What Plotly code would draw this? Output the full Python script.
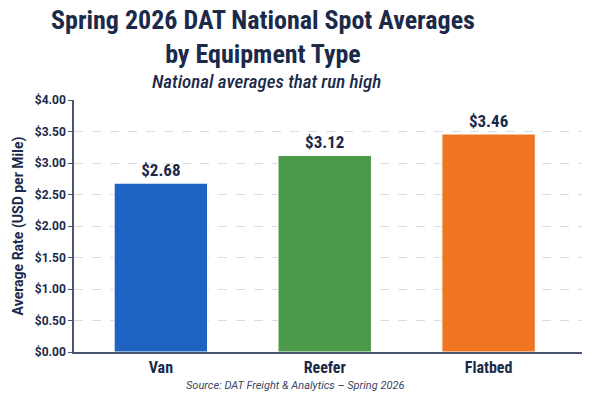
import plotly.graph_objects as go

categories = ["Van", "Reefer", "Flatbed"]
values = [2.68, 3.12, 3.46]
colors = ["#1f63c2", "#4a9a4a", "#f07522"]
labels = ["$2.68", "$3.12", "$3.46"]
tick_vals = [0, 0.5, 1, 1.5, 2, 2.5, 3, 3.5, 4]
tick_text = ["$0.00", "$0.50", "$1.00", "$1.50", "$2.00", "$2.50", "$3.00", "$3.50", "$4.00"]

navy = "#1b2a4a"
cond = "Roboto Condensed, Liberation Sans Narrow, Roboto, sans-serif"
reg = "Roboto, sans-serif"

L, R, T, B = 74, 18, 100, 48
PW = 600 - L - R

fig = go.Figure()
fig.add_trace(go.Bar(
    x=categories, y=values,
    marker=dict(color=colors, line=dict(color="white", width=1)),
    width=0.57,
    text=labels, textposition="outside",
    textfont=dict(family=cond, size=17, color=navy, weight="bold"),
    cliponaxis=False,
))

fig.update_layout(
    width=600, height=400,
    paper_bgcolor="white", plot_bgcolor="white",
    margin=dict(l=L, r=R, t=T, b=B),
    showlegend=False,
    font=dict(family=cond, color=navy),
    xaxis=dict(
        range=[-0.53, 2.57],
        showline=True, linecolor="#4a5670", linewidth=1.5,
        tickfont=dict(family=cond, size=16, color=navy, weight="bold"),
        ticks="", showgrid=False,
    ),
    yaxis=dict(
        range=[0, 4],
        tickvals=tick_vals, ticktext=tick_text,
        showline=True, linecolor="#4a5670", linewidth=1.5,
        ticks="outside", ticklen=4, tickcolor="#4a5670",
        tickfont=dict(family=reg, size=12, color=navy, weight="bold"),
        showgrid=True, gridcolor="#d8dbe0", griddash="dash", gridwidth=1,
        zeroline=False,
        title=dict(text="Average Rate (USD per Mile)",
                   font=dict(family=reg, size=14, color=navy, weight="bold"), standoff=8),
    ),
)

cx_title = (263 - L) / PW
fig.add_annotation(text="Spring 2026 DAT National Spot Averages<br>by Equipment Type",
                   xref="paper", yref="paper", x=cx_title, y=1, xanchor="center", yanchor="middle",
                   yshift=T - 37, showarrow=False,
                   font=dict(size=26, color=navy, weight="bold", family=cond))
fig.add_annotation(text="National averages that run high",
                   xref="paper", yref="paper", x=(266 - L) / PW, y=1, xanchor="center", yanchor="middle",
                   yshift=T - 81, showarrow=False,
                   font=dict(size=19, color=navy, family=cond, style="italic", weight=500))
fig.add_annotation(text="Source: DAT Freight &amp; Analytics – Spring 2026",
                   xref="paper", yref="paper", x=(295 - L) / PW, y=0, xanchor="center", yanchor="middle",
                   yshift=-(385 - (400 - B)), showarrow=False,
                   font=dict(size=11, color="#3a4560", family=reg, style="italic"))

fig.write_html("out.html")
